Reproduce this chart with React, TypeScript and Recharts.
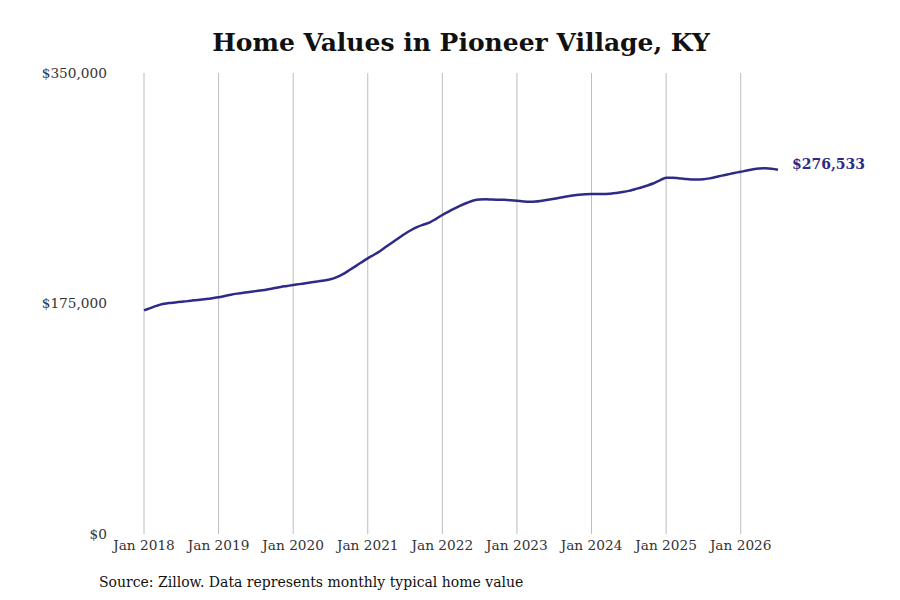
import { type JSX } from 'react'
import { LineChart, Line, XAxis, YAxis, ReferenceLine, LabelList } from 'recharts'

// monthly typical home value, Jan 2018 .. Jul 2026
const homeValues: number[] = [
  169800, 171500, 173200, 174600, 175300, 175800, 176300, 176800, 177400, 177900, 178400, 179000,
  179700, 180700, 181700, 182500, 183200, 183800, 184400, 185000, 185800, 186700, 187600, 188300,
  189000, 189700, 190400, 191100, 191800, 192500, 193400, 195000, 197300, 200200, 203200, 206300,
  209300, 212000, 214900, 218200, 221500, 224800, 228000, 230800, 233200, 235000, 236600, 239300,
  242200, 244800, 247200, 249500, 251500, 253200, 254000, 254100, 253900, 253800, 253700, 253400,
  253000, 252500, 252200, 252400, 253000, 253700, 254500, 255400, 256300, 257000, 257600, 258000,
  258200, 258200, 258100, 258400, 258900, 259600, 260500, 261800, 263100, 264600, 266300, 268500,
  270400, 270500, 270100, 269600, 269200, 269100, 269300, 270000, 271000, 272100, 273100, 274100,
  275000, 276000, 276900, 277500, 277700, 277300, 276533,
]

const yearLabels = [
  'Jan 2018', 'Jan 2019', 'Jan 2020', 'Jan 2021', 'Jan 2022',
  'Jan 2023', 'Jan 2024', 'Jan 2025', 'Jan 2026',
]

const yTicks = [0, 175000, 350000]

const LINE_COLOR = '#2e2b88'
const FONT = '"DejaVu Serif", serif'

const data = homeValues.map((value, i) => ({ t: i, value }))
const xTicks = yearLabels.map((_, i) => i * 12)
const lastIndex = data.length - 1

const money = (v: number): string => '$' + v.toLocaleString('en-US')

interface EndLabelProps {
  x?: number
  y?: number
  index?: number
  value?: number
}

const EndLabel = ({ x, y, index, value }: EndLabelProps): JSX.Element | null => {
  if (index !== lastIndex || x == null || y == null || value == null) return null
  return (
    <text
      x={x + 14}
      y={y - 5}
      fill={LINE_COLOR}
      fontFamily={FONT}
      fontWeight="bold"
      fontSize={14}
      dominantBaseline="middle"
    >
      {money(value)}
    </text>
  )
}

export default function App(): JSX.Element {
  return (
    <div style={{ position: 'absolute', left: 0, top: 0, width: 900, height: 600, background: 'white' }}>
      <div
        style={{
          position: 'absolute',
          left: 144,
          width: 634,
          top: 27,
          textAlign: 'center',
          fontFamily: FONT,
          fontWeight: 'bold',
          fontSize: 25,
          lineHeight: '32px',
          color: '#111',
        }}
      >
        Home Values in Pioneer Village, KY
      </div>
      <LineChart
        width={900}
        height={600}
        data={data}
        margin={{ top: 73, right: 122, left: 0, bottom: 36 }}
      >
        {xTicks.map((t) => (
          <ReferenceLine key={t} x={t} stroke="#bdbdbd" strokeWidth={1} />
        ))}
        <XAxis
          dataKey="t"
          type="number"
          domain={[0, lastIndex]}
          ticks={xTicks}
          tickFormatter={(v: number) => yearLabels[v / 12]}
          axisLine={false}
          tickLine={false}
          tick={{ fontSize: 13.7, fill: '#333', fontFamily: FONT }}
          height={30}
          tickMargin={0}
          interval={0}
        />
        <YAxis
          domain={[0, 350000]}
          ticks={yTicks}
          tickFormatter={money}
          axisLine={false}
          tickLine={false}
          tick={{ fontSize: 13.7, fill: '#333', fontFamily: FONT }}
          width={144}
          tickMargin={31}
        />
        <Line
          type="monotone"
          dataKey="value"
          stroke={LINE_COLOR}
          strokeWidth={2.5}
          dot={false}
          isAnimationActive={false}
        >
          <LabelList dataKey="value" content={<EndLabel />} />
        </Line>
      </LineChart>
      <div
        style={{
          position: 'absolute',
          left: 99,
          top: 573,
          fontFamily: FONT,
          fontSize: 14,
          lineHeight: '18px',
          color: '#111',
        }}
      >
        Source: Zillow. Data represents monthly typical home value
      </div>
    </div>
  )
}
